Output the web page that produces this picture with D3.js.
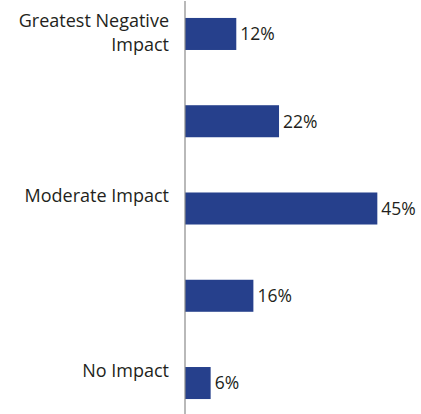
<!DOCTYPE html>
<html>
<head>
<meta charset="utf-8">
<script src="https://cdn.jsdelivr.net/npm/d3@7"></script>
<style>
  html, body { margin: 0; padding: 0; background: #fff; }
  svg { display: block; }
  text { font-family: "Open Sans", "Noto Sans", sans-serif; fill: #231f20; }
</style>
</head>
<body>
<div id="chart"></div>
<script>
// Survey responses: share of respondents per impact level
const categories = [
  ["Greatest Negative", "Impact"],
  [""],
  ["Moderate Impact"],
  [""],
  ["No Impact"]
];
const values = [12, 22, 45, 16, 6];
const valueLabels = ["12%", "22%", "45%", "16%", "6%"];

const width = 421, height = 414;
const axisX = 184.5;

const svg = d3.select("#chart").append("svg")
  .attr("width", width)
  .attr("height", height);

const y = d3.scaleBand()
  .domain(d3.range(values.length))
  .range([0.5, 416.5])
  .paddingInner(0.633)
  .paddingOuter(0.2);

const x = d3.scaleLinear()
  .domain([0, 50])
  .range([axisX + 0.5, axisX + 0.5 + 213.7]);

// bars
svg.append("g")
  .selectAll("rect")
  .data(values)
  .join("rect")
  .attr("x", x(0))
  .attr("y", (d, i) => y(i))
  .attr("width", d => x(d) - x(0))
  .attr("height", y.bandwidth())
  .attr("fill", "#26408c");

// value labels
svg.append("g")
  .selectAll("text")
  .data(values)
  .join("text")
  .attr("x", d => x(d) + 4)
  .attr("y", (d, i) => y(i) + y.bandwidth() / 2)
  .attr("dy", "0.36em")
  .attr("font-size", 17.5)
  .text((d, i) => valueLabels[i]);

// category axis line
const axis = d3.axisLeft(y).tickSize(0).tickSizeOuter(0).tickFormat("");
const gAxis = svg.append("g")
  .attr("transform", `translate(${axisX},0)`)
  .call(axis);
gAxis.select(".domain").attr("stroke", "#8a8a8a").attr("stroke-width", 1.2);

// category labels, right-aligned
const labels = svg.append("g")
  .selectAll("text")
  .data(categories)
  .join("text")
  .attr("text-anchor", "end")
  .attr("font-size", 18)
  .attr("y", (d, i) => y(i) + y.bandwidth() / 2 - 6.5);

labels.selectAll("tspan")
  .data(d => d)
  .join("tspan")
  .attr("x", 169)
  .attr("dy", (d, j) => j === 0 ? 0 : 23.5)
  .text(d => d);
</script>
</body>
</html>
